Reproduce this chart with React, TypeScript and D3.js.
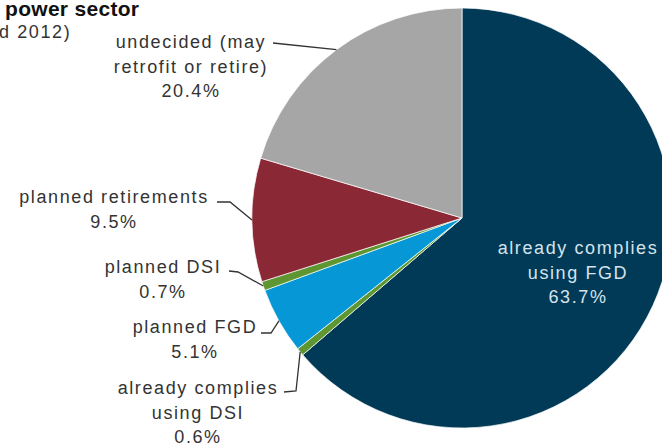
import React from "react";
import * as d3 from "d3";

const categories = [
  "already complies using FGD",
  "already complies using DSI",
  "planned FGD",
  "planned DSI",
  "planned retirements",
  "undecided (may retrofit or retire)",
];
const values = [63.7, 0.6, 5.1, 0.7, 9.5, 20.4];
const colors = ["#003a57", "#5e9732", "#0597d6", "#5e9732", "#8a2835", "#a6a6a6"];
const labelLines = [
  ["already complies", "using FGD", "63.7%"],
  ["already complies", "using DSI", "0.6%"],
  ["planned FGD", "5.1%"],
  ["planned DSI", "0.7%"],
  ["planned retirements", "9.5%"],
  ["undecided (may", "retrofit or retire)", "20.4%"],
];

const W = 662;
const H = 446;
const cx = 462;
const cy = 218;
const R = 210;
const FONT = "'Liberation Sans', Arial, sans-serif";

const layout: { x: number; y: number; elbow: [number, number][] | null; inner?: boolean }[] = [
  { x: 578, y: 254, elbow: null, inner: true },
  { x: 198, y: 394, elbow: [[284, 392], [296, 391]] },
  { x: 195, y: 333, elbow: [[261, 333], [271, 333]] },
  { x: 163, y: 273, elbow: [[229, 271], [238, 272]] },
  { x: 114, y: 203, elbow: [[217, 202], [230, 202]] },
  { x: 191, y: 48, elbow: [[273, 43], [273, 43]] },
];

export default function App() {
  const pie = d3.pie<number>().sort(null).startAngle(0).endAngle(2 * Math.PI);
  const arcs = pie(values);
  const arc = d3.arc<d3.PieArcDatum<number>>().innerRadius(0).outerRadius(R);
  const edge = d3.arc<d3.PieArcDatum<number>>().innerRadius(R).outerRadius(R);

  return (
    <svg width={W} height={H} style={{ position: "absolute", left: 0, top: 0, background: "#fff" }}>
      <g transform={`translate(${cx},${cy})`}>
        {arcs.map((a, i) => (
          <path key={categories[i]} d={arc(a) || ""} fill={colors[i]} stroke="#ffffff" strokeWidth={0.7} />
        ))}
      </g>
      {arcs.map((a, i) => {
        const L = layout[i];
        if (!L.elbow) return null;
        const c = edge.centroid(a);
        const pts = [...L.elbow, [c[0] + cx, c[1] + cy]];
        return (
          <polyline
            key={"l" + i}
            points={pts.map((p) => p.join(",")).join(" ")}
            fill="none"
            stroke="#333"
            strokeWidth={1.3}
          />
        );
      })}
      {labelLines.map((lines, i) => {
        const L = layout[i];
        return (
          <text
            key={"t" + i}
            textAnchor="middle"
            fontFamily={FONT}
            fontSize={18}
            letterSpacing={1.6}
            fill={L.inner ? "#d5e3ec" : "#333"}
          >
            {lines.map((s, j) => (
              <tspan key={j} x={L.x} y={L.y + j * 24.5}>
                {s}
              </tspan>
            ))}
          </text>
        );
      })}
      <text x={5} y={16} fontFamily={FONT} fontSize={21} fontWeight="bold" letterSpacing={0.3} fill="#111">
        power sector
      </text>
      <text x={-1} y={38} fontFamily={FONT} fontSize={18} letterSpacing={1.6} fill="#333">
        d 2012)
      </text>
    </svg>
  );
}
